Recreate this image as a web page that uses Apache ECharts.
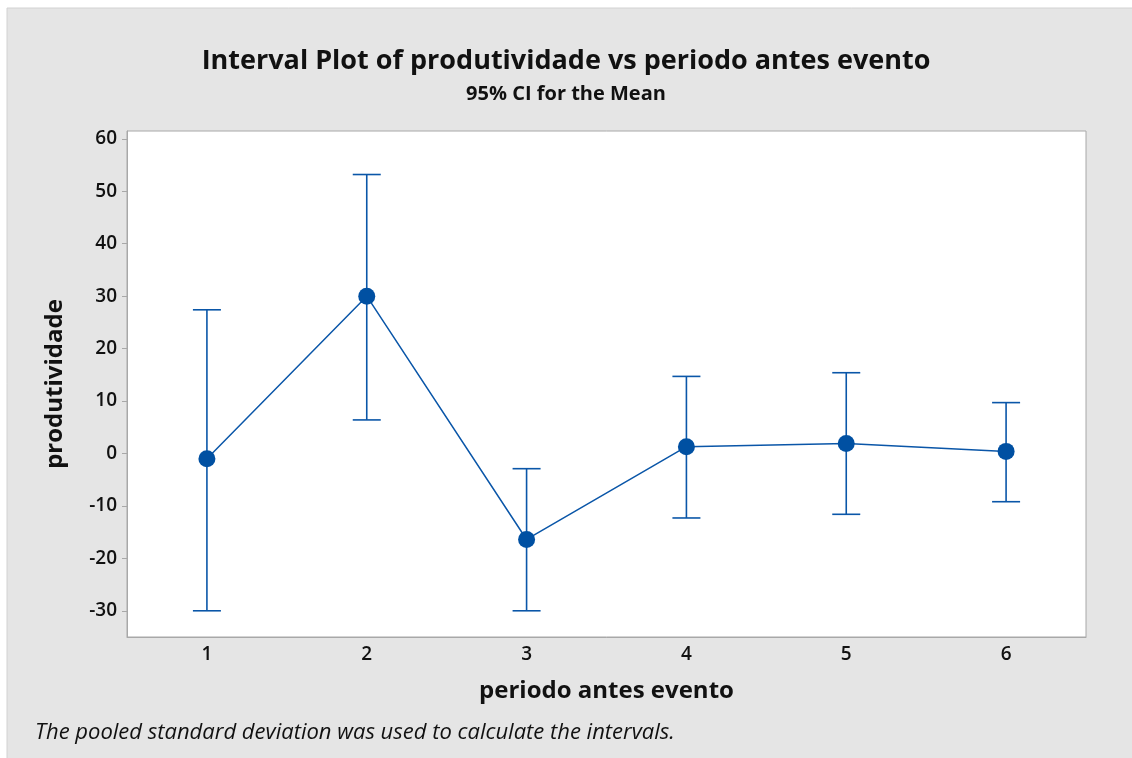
<!DOCTYPE html>
<html>
<head>
<meta charset="utf-8">
<script src="https://cdn.jsdelivr.net/npm/echarts@6/dist/echarts.min.js"></script>
<style>
  html, body { margin: 0; padding: 0; background: #fff; }
  #chart { width: 1132px; height: 758px; }
</style>
</head>
<body>
<div id="chart"></div>
<script>
// periodo antes evento
const periods = ['1', '2', '3', '4', '5', '6']
// media e intervalo de 95%
const means = [-1.0, 30.0, -16.4, 1.3, 1.9, 0.4]
const lower = [-30.0, 6.4, -30.0, -12.3, -11.6, -9.2]
const upper = [27.4, 53.2, -2.9, 14.7, 15.4, 9.7]
const yTicks = [-30, -20, -10, 0, 10, 20, 30, 40, 50, 60]

const blue = '#0a56a8'
const font = 'Open Sans'

const chart = echarts.init(document.getElementById('chart'))

const option = {
  backgroundColor: '#fff',
  animation: false,
  graphic: [
    {
      type: 'rect',
      z: -10,
      shape: { x: 7, y: 8, width: 1130, height: 755 },
      style: { fill: '#e5e5e5', stroke: '#d2d2d2', lineWidth: 1 }
    },
    {
      type: 'text',
      left: 35,
      top: 722,
      style: {
        text: 'The pooled standard deviation was used to calculate the intervals.',
        font: 'italic 22px "Open Sans"',
        fill: '#111'
      }
    }
  ],
  title: [
    {
      text: 'Interval Plot of produtividade vs periodo antes evento',
      left: 'center',
      top: 43,
      textStyle: { fontFamily: font, fontSize: 27, fontWeight: 'bold', color: '#111' }
    },
    {
      text: '95% CI for the Mean',
      left: 'center',
      top: 79,
      textStyle: { fontFamily: font, fontSize: 20, fontWeight: 'bold', color: '#111' }
    }
  ],
  grid: {
    left: 127, right: 46, top: 131, bottom: 121,
    show: true, backgroundColor: '#fff', borderColor: '#a8a8a8', borderWidth: 1
  },
  xAxis: {
    type: 'category',
    data: periods,
    boundaryGap: true,
    name: 'periodo antes evento',
    nameLocation: 'middle',
    nameGap: 42,
    nameTextStyle: { fontFamily: font, fontSize: 24, fontWeight: 'bold', color: '#111' },
    axisLine: { onZero: false, lineStyle: { color: '#a8a8a8' } },
    axisTick: { alignWithLabel: true, length: 5, lineStyle: { color: '#a8a8a8' } },
    axisLabel: { fontFamily: font, fontSize: 19, fontWeight: 600, color: '#111', margin: 8 },
    splitLine: { show: false }
  },
  yAxis: {
    type: 'value',
    min: -35,
    max: 61.5,
    name: 'produtividade',
    nameLocation: 'middle',
    nameGap: 60,
    nameTextStyle: { fontFamily: font, fontSize: 24, fontWeight: 'bold', color: '#111' },
    axisLine: { show: true, lineStyle: { color: '#a8a8a8' } },
    axisTick: { show: true, length: 5, customValues: yTicks, lineStyle: { color: '#a8a8a8' } },
    axisLabel: { fontFamily: font, fontSize: 19, fontWeight: 600, color: '#111', margin: 10, customValues: yTicks },
    splitLine: { show: false }
  },
  series: [
    {
      type: 'custom',
      data: periods.map((p, i) => [i, lower[i], upper[i]]),
      renderItem: (params, api) => {
        const lo = api.coord([api.value(0), api.value(1)])
        const hi = api.coord([api.value(0), api.value(2)])
        const w = 14
        const st = { stroke: blue, lineWidth: 1.6 }
        return {
          type: 'group',
          children: [
            { type: 'line', shape: { x1: lo[0], y1: lo[1], x2: hi[0], y2: hi[1] }, style: st },
            { type: 'line', shape: { x1: lo[0] - w, y1: lo[1], x2: lo[0] + w, y2: lo[1] }, style: st },
            { type: 'line', shape: { x1: hi[0] - w, y1: hi[1], x2: hi[0] + w, y2: hi[1] }, style: st }
          ]
        }
      },
      z: 2
    },
    {
      type: 'line',
      data: means,
      symbol: 'circle',
      symbolSize: 17,
      itemStyle: { color: '#0050a2' },
      lineStyle: { color: blue, width: 1.5 },
      z: 3
    }
  ]
}

chart.setOption(option)
</script>
</body>
</html>
